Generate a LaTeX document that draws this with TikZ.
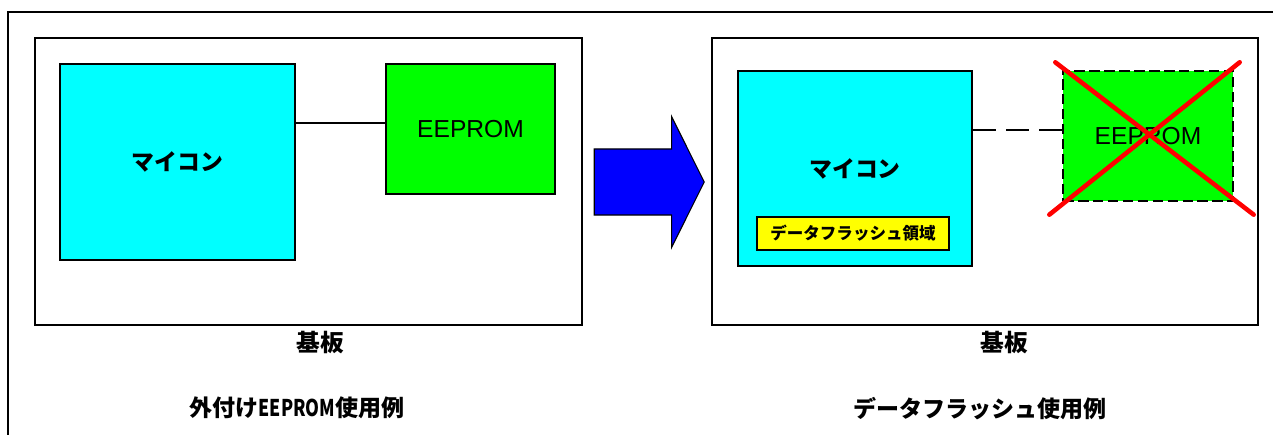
\documentclass[tikz,border=0pt]{standalone}
\usepackage{fontspec}
\setmainfont{Liberation Sans}
\newfontfamily\jp{Noto Sans CJK JP}
\usetikzlibrary{shapes.arrows}

\definecolor{mcucyan}{RGB}{0,255,255}
\definecolor{eepgreen}{RGB}{0,255,0}
\definecolor{arrowblue}{RGB}{0,0,255}
\definecolor{flashyellow}{RGB}{255,255,0}
\definecolor{crossred}{RGB}{255,0,0}

\tikzstyle{board} = [rectangle, minimum width=10.94cm, minimum height=5.74cm, draw=black, line width=0.8pt]
\tikzstyle{mcu} = [rectangle, minimum width=4.7cm, minimum height=3.92cm, draw=black, fill=mcucyan, line width=0.8pt, font=\jp\bfseries\fontsize{13}{15}\selectfont]
\tikzstyle{eeprom} = [rectangle, minimum width=3.4cm, minimum height=2.6cm, draw=black, fill=eepgreen, line width=0.8pt, font=\fontsize{14}{16}\selectfont]
\tikzstyle{flash} = [rectangle, minimum width=3.84cm, minimum height=0.66cm, draw=black, fill=flashyellow, line width=0.8pt, font=\jp\bfseries\fontsize{9.4}{11}\selectfont]
\tikzstyle{label} = [font=\jp\bfseries\fontsize{13.5}{15}\selectfont]
\tikzstyle{title} = [font=\jp\bfseries\fontsize{13.1}{15}\selectfont]
\tikzstyle{link} = [line width=1pt]
\tikzstyle{cross} = [crossred, line width=2.6pt, line cap=round]

\begin{document}
\begin{tikzpicture}[x=0.02cm, y=-0.02cm]
    \path [use as bounding box, clip] (0,0) rectangle (1273,435);
    \draw [line width=0.8pt] (8,12) rectangle (1300,460);

    % Nodes
    \node (boardL) [board] at (308.5,181.5) {};
    \node (mcuL) [mcu] at (177.5,162) {マイコン};
    \node (eepL) [eeprom, minimum width=3.38cm] at (470.5,129) {EEPROM};
    \node (baseL) [label] at (320,343) {基板};
    \node (titleL) [title] at (297,408) {外付け\scalebox{0.77}[1]{EEPROM}使用例};

    \node (arrow) [single arrow, draw=black, fill=arrowblue, line width=0.6pt, inner xsep=0pt, inner ysep=0.65cm, minimum height=2.2cm, single arrow head extend=0.65cm, single arrow tip angle=127] at (641,182) {};

    \node (boardR) [board, minimum width=10.92cm] at (985,181.5) {};
    \node (mcuR) [mcu, minimum width=4.68cm, minimum height=3.9cm] at (855,168.5) {マイコン};
    \node (flash) [flash] at (853,233.5) {データフラッシュ領域};
    \node (eepR) [eeprom, dash pattern=on 6pt off 2.5pt] at (1148,136) {EEPROM};
    \node (baseR) [label] at (1004,343) {基板};
    \node (titleR) [title] at (980,409) {データフラッシュ使用例};

    % Lines
    \draw [link] ([yshift=0.12cm]eepL.west -| mcuL.east) -- ([yshift=0.12cm]eepL.west);
    \draw [link, dash pattern=on 13pt off 6pt] ([yshift=0.12cm]eepR.west -| mcuR.east) -- ([yshift=0.12cm]eepR.west);
    \draw [cross] ([shift={(-0.14cm,0.16cm)}]eepR.north west) -- ([shift={(0.4cm,-0.26cm)}]eepR.south east);
    \draw [cross] ([shift={(0.12cm,0.16cm)}]eepR.north east) -- ([shift={(-0.26cm,-0.26cm)}]eepR.south west);
\end{tikzpicture}
\end{document}
